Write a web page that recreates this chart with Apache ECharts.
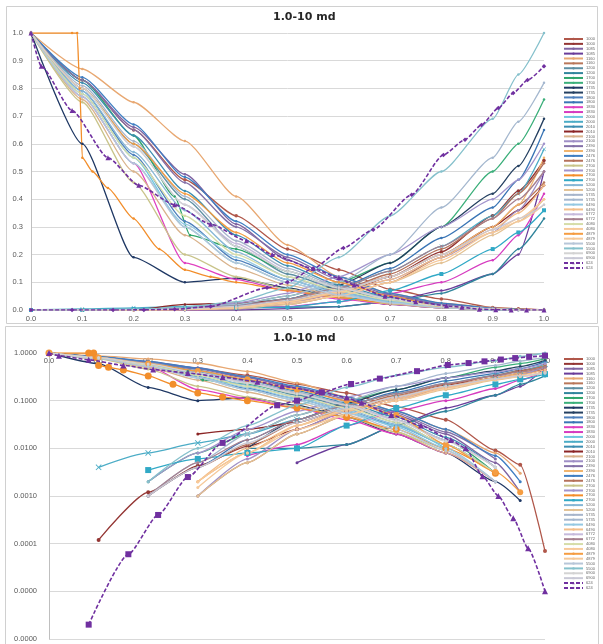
<!DOCTYPE html>
<html><head><meta charset="utf-8">
<script src="https://cdn.jsdelivr.net/npm/echarts@6/dist/echarts.min.js"></script>
<style>html,body{margin:0;padding:0;background:#fff}#c{width:603px;height:644px}</style>
</head><body><div id="c"></div>
<script>
// Normalised water saturation grid (most samples)
const SW = [0, 0.1, 0.2, 0.3, 0.4, 0.5, 0.6, 0.7, 0.8, 0.9, 0.95, 1.0];
const SW1700 = [0, 0.1, 0.2, 0.28, 0.31, 0.4, 0.5, 0.6, 0.7, 0.8, 0.9, 1.0];
const SW2700b = [0, 0.08, 0.09, 0.095, 0.1, 0.12, 0.15, 0.2, 0.25, 0.3, 0.35, 0.4, 0.5, 0.6, 0.7, 0.8, 0.9];
const SWo624 = [0, 0.02, 0.08, 0.15, 0.21, 0.28, 0.35, 0.42, 0.47, 0.55, 0.6, 0.63, 0.69, 0.75, 0.81, 0.84, 0.874, 0.906, 0.936, 0.966, 1.0];
const SWw624 = [0, 0.08, 0.16, 0.22, 0.28, 0.35, 0.46, 0.5, 0.55, 0.609, 0.667, 0.742, 0.804, 0.846, 0.878, 0.911, 0.94, 0.968, 1.0];

const kro1000 = [1, .83, .65, .47, .34, .22, .145, .075, .04, .009, .0045, .00007];
const krw1000 = [0, .00012, .0012, .0043, .011, .025, .06, .12, .21, .34, .43, .54];
const kro1085 = [1, .83, .66, .49, .31, .18, .1, .05, .02, .005, .0012, 0];
const krw1085 = [0, 0, 0, 0, 0, .005, .012, .03, .07, .13, .2, .5];
const kro1160 = [1, .87, .75, .61, .41, .235, .12, .06, .025, .008, .003, 0];
const krw1160 = [0, 0, 0, .001, .005, .02, .05, .1, .19, .3, .38, .46];
const kro1200 = [1, .8, .6, .4, .23, .13, .075, .035, .012, .003, 0, 0];
const krw1200 = [0, 0, 0, 0, .01, .01, .012, .03, .06, .13, .22, .33];
const kro1700 = [1, .83, .63, .41, .27, .22, .14, .08, .04, .015, .003, 0];
const krw1700 = [0, 0, .002, .008, .02, .05, .1, .17, .3, .5, .6, .76];
const kro1735 = [1, .6, .19, .1, .115, .08, .045, .02, .008, .002, .0008, 0];
const krw1735 = [0, 0, 0, 0, .01, .04, .09, .17, .3, .42, .52, .69];
const kro1800 = [1, .79, .56, .32, .18, .11, .06, .03, .012, .003, 0, 0];
const krw1800 = [0, 0, .001, .004, .015, .04, .08, .15, .26, .37, .47, .65];
const kro1830 = [1, .77, .53, .17, .11, .07, .04, .02, .008, .002, 0, 0];
const krw1830 = [0, 0, 0, 0, .007, .012, .03, .06, .1, .18, .27, .42];
const kro2000 = [1, .78, .55, .3, .17, .1, .055, .03, .01, 0, 0, 0];
const krw2000 = [0, .004, .008, .013, .02, .04, .08, .14, .23, .34, .42, .58];
const kro2010 = [1, .82, .63, .43, .27, .16, .09, .045, .017, .004, 0, 0];
const krw2010 = [0, 0, 0, .02, .025, .035, .07, .12, .2, .3, .36, .45];
const kro2100 = [1, .76, .5, .27, .15, .09, .05, .022, .008, .002, 0, 0];
const krw2100 = [0, 0, 0, .001, .006, .025, .06, .11, .19, .28, .36, .5];
const kro2390 = [1, .83, .65, .46, .3, .19, .11, .055, .022, .006, 0, 0];
const krw2390 = [0, 0, 0, .002, .008, .03, .07, .12, .2, .3, .38, .55];
const kro2476 = [1, .84, .67, .48, .32, .2, .12, .06, .025, .007, .002, 0];
const krw2476 = [0, 0, .001, .004, .012, .035, .07, .13, .22, .33, .42, .53];
const kro2700a = [1, .75, .46, .2, .12, .075, .045, .022, .009, .002, 0, 0];
const krw2700a = [0, 0, .002, .008, .025, .06, .12, .2, .3, .4, .47, .6];
const kro2700b = [1, 1, 1, .8, .55, .5, .44, .33, .22, .145, .12, .1, .07, .045, .025, .01, .003];
const krw2700b = [0, 0, .0035, .006, .008, .01, .03, .07, .13, .22, .28, .36];
const kro5200 = [1, .79, .57, .36, .21, .12, .065, .032, .012, .003, 0, 0];
const krw5200 = [0, 0, 0, .001, .005, .02, .05, .1, .17, .27, .32, .4];
const kro5735 = [1, .81, .61, .41, .25, .15, .085, .04, .015, .004, 0, 0];
const krw5735 = [0, 0, .001, .005, .02, .05, .1, .2, .37, .55, .68, .82];
const kro6490 = [1, .77, .53, .31, .19, .11, .06, .028, .01, .002, 0, 0];
const krw6490 = [0, 0, 0, .002, .01, .03, .06, .11, .19, .29, .35, .45];
const kro6772 = [1, .8, .59, .38, .24, .14, .08, .04, .015, .004, 0, 0];
const krw6772 = [0, 0, .001, .005, .015, .04, .08, .14, .23, .33, .4, .5];
const kro4080 = [1, .78, .55, .34, .2, .12, .07, .035, .012, .003, 0, 0];
const krw4080 = [0, 0, 0, .002, .008, .025, .05, .1, .18, .28, .33, .4];
const kro4879 = [1, .8, .6, .42, .28, .17, .1, .05, .012, .0032, .0012, 0];
const krw4879 = [0, 0, 0, .0015, .008, .03, .065, .12, .2, .28, .32, .38];
const kro5500 = [1, .77, .53, .3, .17, .1, .055, .025, .009, .002, 0, 0];
const krw5500 = [0, 0, .002, .01, .03, .08, .19, .34, .5, .69, .85, 1.0];
const kro6900 = [1, .8, .59, .38, .23, .14, .08, .038, .014, .004, 0, 0];
const krw6900 = [0, 0, .001, .004, .013, .035, .07, .12, .2, .29, .33, .38];
const kro624 = [1, .88, .72, .55, .45, .38, .31, .25, .2, .15, .116, .09, .05, .03, .015, .01, .0026, .001, .00034, .00008, .00001];
const krw624 = [0, .000002, .00006, .0004, .0025, .013, .08, .1, .15, .224, .29, .416, .56, .615, .668, .729, .783, .83, .88];

const NAMES = ['1000','1085','1160','1200','1700','1735','1800','1830','2000','2010','2100','2390','2476','2700','2700','5200','5735','6490','6772','4080','4879','5500','6900','624'];
const TITLE = '1.0-10 md';

const CURVES = [
  [SW, kro1000, SW, krw1000], [SW, kro1085, SW, krw1085], [SW, kro1160, SW, krw1160],
  [SW, kro1200, SW, krw1200], [SW1700, kro1700, SW, krw1700], [SW, kro1735, SW, krw1735],
  [SW, kro1800, SW, krw1800], [SW, kro1830, SW, krw1830], [SW, kro2000, SW, krw2000],
  [SW, kro2010, SW, krw2010], [SW, kro2100, SW, krw2100], [SW, kro2390, SW, krw2390],
  [SW, kro2476, SW, krw2476], [SW, kro2700a, SW, krw2700a], [SW2700b, kro2700b, SW, krw2700b],
  [SW, kro5200, SW, krw5200], [SW, kro5735, SW, krw5735], [SW, kro6490, SW, krw6490],
  [SW, kro6772, SW, krw6772], [SW, kro4080, SW, krw4080], [SW, kro4879, SW, krw4879],
  [SW, kro5500, SW, krw5500], [SW, kro6900, SW, krw6900], [SWo624, kro624, SWw624, krw624]
];

const COLORS = [
  ['#B0574A','#943634'], ['#8064A2','#6A3D9A'], ['#E8A872','#B9775A'], ['#5E8FA3','#31859C'],
  ['#2FA56A','#3BAF7A'], ['#1F3864','#254061'], ['#4F81BD','#3A75B5'], ['#E040C0','#D63CC0'],
  ['#6FC7DF','#4BACC6'], ['#3D8EB1','#8B2525'], ['#D9B38C','#9F8FC6'], ['#8470A8','#F0B46E'],
  ['#3F7EC2','#B5725B'], ['#C9C48A','#A294CC'], ['#F28E2B','#31A9C6'], ['#86B7D6','#E3C294'],
  ['#A7B5CB','#A5B8CF'], ['#94C8E2','#F3BE8A'], ['#C6BADC','#A6808F'], ['#D6DDA8','#F7C99A'],
  ['#F59D42','#F5C99A'], ['#B7C6D8','#86C1CC'], ['#D3D3D3','#C9C9D6'], ['#7030A0','#7030A0']
];

const XSHAPE = 'path://M0,1L1,0L5,4L9,0L10,1L6,5L10,9L9,10L5,6L1,10L0,9L4,5Z';
function symFor(k, j, panel) {
  if (k === 23) return j === 0 ? ['triangle', panel ? 6 : 5] : [panel ? 'rect' : 'diamond', panel ? 6 : 4.5];
  if (k === 14) return j === 0 ? ['circle', panel ? 7 : 2.5] : ['rect', panel ? 6 : 4];
  if (k === 20 && j === 0) return ['circle', panel ? 6 : 2.5];
  if (k === 0) return ['circle', panel ? 4 : 3.5];
  if (k === 8 && j === 1) return [XSHAPE, panel ? 6 : 4];
  return ['circle', panel ? 3 : 2.5];
}

const series = [];
const legendNames = [];
const used = {};
CURVES.forEach((c, k) => {
  for (let j = 0; j < 2; j++) {
    const base = NAMES[k];
    used[base] = (used[base] || 0);
    const name = base + ' '.repeat(used[base]);
    used[base]++;
    legendNames.push(name);
    const xs = c[j * 2], ys = c[j * 2 + 1];
    const color = COLORS[k][j];
    const dashed = k === 23;
    for (let p = 0; p < 2; p++) {
      const pts = [];
      xs.forEach((x, i) => {
        const v = ys[i];
        if (v === undefined || v === null) return;
        if (p === 1 && !(v > 0)) return;
        pts.push([x, v]);
      });
      const s = symFor(k, j, p);
      series.push({
        type: 'line', name: name, xAxisIndex: p, yAxisIndex: p,
        data: pts, smooth: 0.2, smoothMonotone: 'x',
        symbol: s[0], symbolSize: s[1], showSymbol: true,
        lineStyle: { color: color, width: dashed ? 1.6 : 1.3, type: dashed ? [4, 2] : 'solid' },
        itemStyle: { color: color },
        emphasis: { disabled: true }, silent: true, animation: false,
        z: dashed ? 5 : 2
      });
    }
  }
});

const labelFont = { fontFamily: 'Liberation Sans, Arial, sans-serif', fontSize: 7.5, color: '#595959' };
const legendBase = {
  orient: 'vertical', left: 563, itemWidth: 19, itemHeight: 3, itemGap: 0.87, padding: 0,
  selectedMode: false, data: legendNames,
  textStyle: { fontSize: 4, lineHeight: 4, color: '#666', fontFamily: 'Liberation Sans, Arial, sans-serif', padding: [0, 0, 0, -2] }
};

const option = {
  backgroundColor: '#fff',
  animation: false,
  title: [
    { text: TITLE, left: 273, top: 12, padding: 0, textStyle: { fontFamily: 'DejaVu Sans', fontWeight: 'bold', fontSize: 11, color: '#262626' } },
    { text: TITLE, left: 273, top: 333, padding: 0, textStyle: { fontFamily: 'DejaVu Sans', fontWeight: 'bold', fontSize: 11, color: '#262626' } }
  ],
  legend: [
    Object.assign({}, legendBase, { top: 37 }),
    Object.assign({}, legendBase, { top: 357 })
  ],
  grid: [
    { left: 31, top: 33, width: 513, height: 277 },
    { left: 49, top: 353, width: 496, height: 286 }
  ],
  xAxis: [
    { type: 'value', gridIndex: 0, min: 0, max: 1, interval: 0.1,
      axisLine: { show: true, lineStyle: { color: '#BFBFBF' } }, axisTick: { show: false },
      splitLine: { show: false },
      axisLabel: Object.assign({ margin: 5, formatter: v => v.toFixed(1) }, labelFont) },
    { type: 'value', gridIndex: 1, position: 'top', min: 0, max: 1, interval: 0.1,
      axisLine: { show: true, onZero: false, lineStyle: { color: '#BFBFBF' } }, axisTick: { show: false },
      splitLine: { show: false },
      axisLabel: Object.assign({ inside: true, margin: 4, formatter: v => v.toFixed(1) }, labelFont) }
  ],
  yAxis: [
    { type: 'value', gridIndex: 0, min: 0, max: 1, interval: 0.1,
      axisLine: { show: true, lineStyle: { color: '#BFBFBF' } }, axisTick: { show: false },
      splitLine: { show: true, lineStyle: { color: '#D9D9D9' } },
      axisLabel: Object.assign({ margin: 8, formatter: v => v.toFixed(1) }, labelFont) },
    { type: 'log', logBase: 10, gridIndex: 1, min: 0.000001, max: 1, interval: 1,
      axisLine: { show: true, onZero: false, lineStyle: { color: '#BFBFBF' } }, axisTick: { show: false },
      splitLine: { show: true, lineStyle: { color: '#D9D9D9' } },
      axisLabel: Object.assign({ margin: 12, formatter: v => Number(v).toFixed(4) }, labelFont) }
  ],
  graphic: [
    { type: 'rect', silent: true, z: -10, shape: { x: 6.5, y: 6.5, width: 591, height: 317 }, style: { fill: 'none', stroke: '#D0D0D0', lineWidth: 1 } },
    { type: 'rect', silent: true, z: -10, shape: { x: 5.5, y: 326.5, width: 593, height: 330 }, style: { fill: 'none', stroke: '#D0D0D0', lineWidth: 1 } }
  ],
  series: series
};

const chart = echarts.init(document.getElementById('c'), null, { renderer: 'canvas' });
chart.setOption(option);
</script>
</body></html>
